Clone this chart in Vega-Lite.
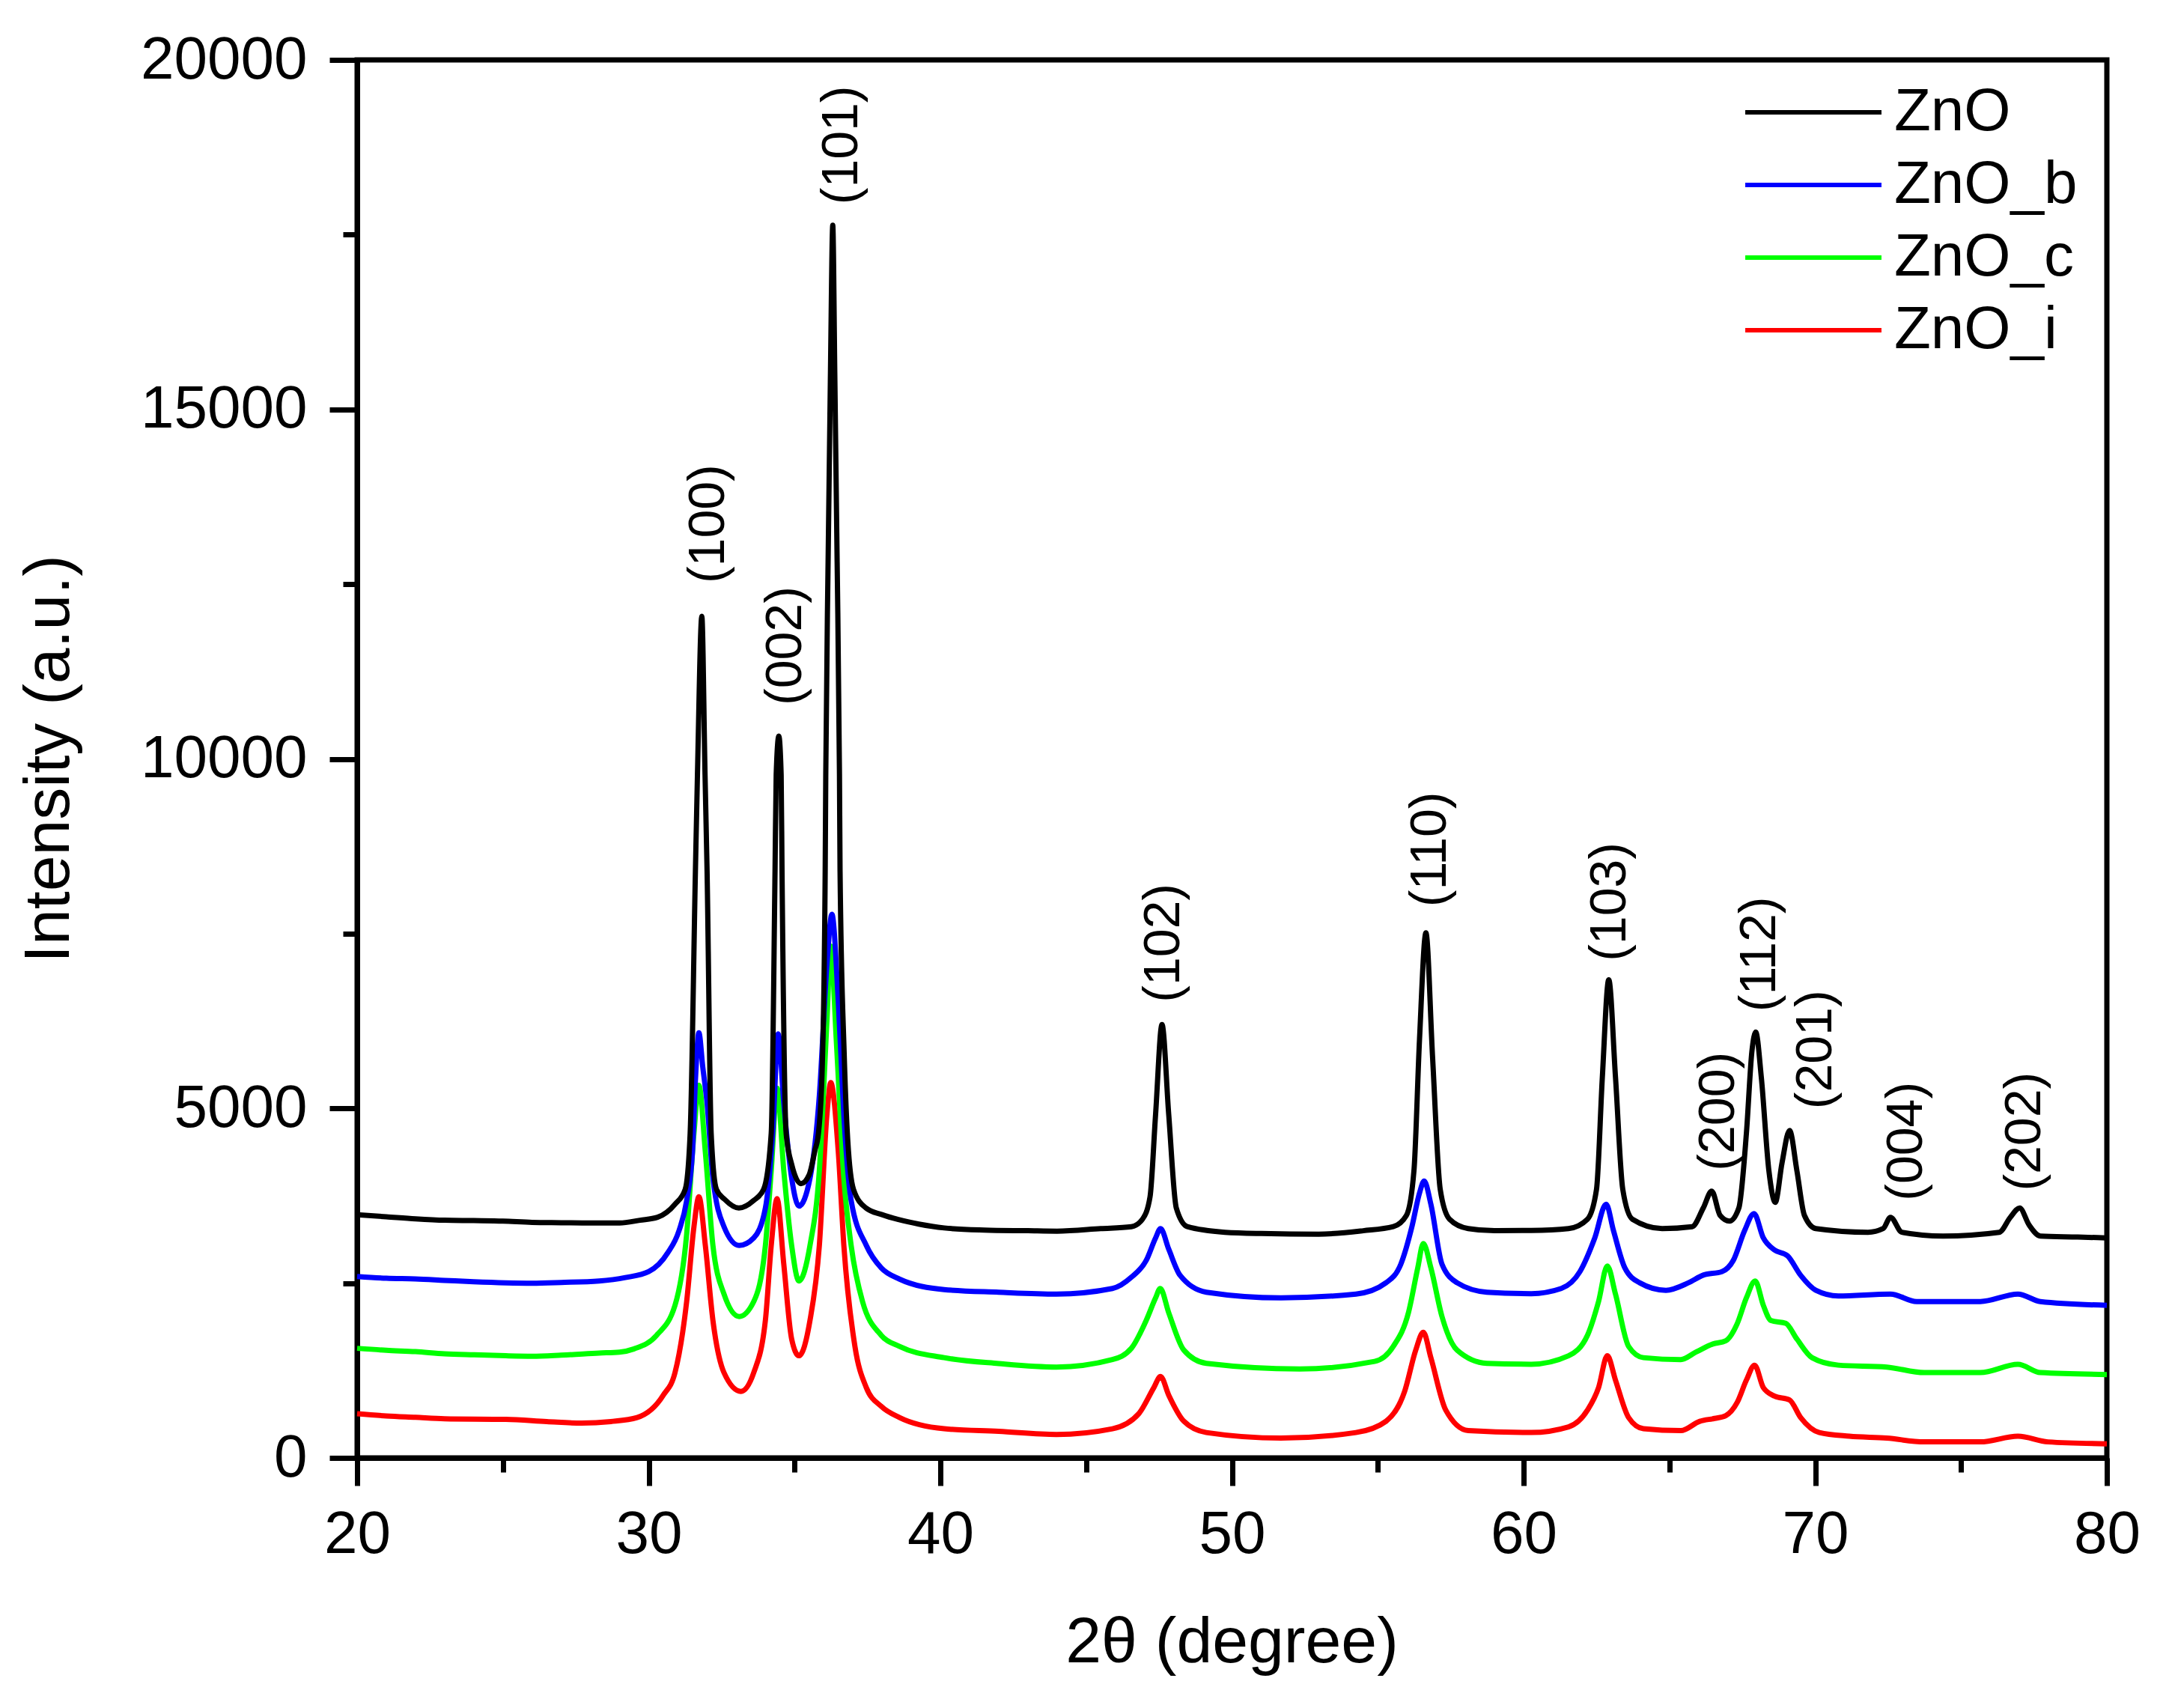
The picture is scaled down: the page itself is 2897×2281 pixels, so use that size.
{
  "$schema": "https://vega.github.io/schema/vega-lite/v6.json",
  "width": 2337,
  "height": 1867,
  "autosize": {"type": "none"},
  "padding": {"left": 477, "top": 80, "right": 83, "bottom": 334},
  "background": "white",
  "config": {
    "view": {"stroke": "black", "strokeWidth": 7},
    "font": "Liberation Sans",
    "axis": {"grid": false, "domainColor": "black", "tickColor": "black", "domainWidth": 7, "tickWidth": 7, "labelColor": "black", "titleColor": "black", "labelFont": "Liberation Sans", "titleFont": "Liberation Sans", "titleFontWeight": "normal", "labelFlush": false, "labelLimit": 1000, "labelOverlap": false}
  },
  "datasets": {
    "xrd": [
      {"s":"ZnO_i","t":20,"I":631},{"s":"ZnO_i","t":21,"I":600},{"s":"ZnO_i","t":22,"I":580},{"s":"ZnO_i","t":23,"I":560},{"s":"ZnO_i","t":25.1,"I":551},{"s":"ZnO_i","t":26.5,"I":520},{"s":"ZnO_i","t":27.7,"I":497},{"s":"ZnO_i","t":28.7,"I":520},{"s":"ZnO_i","t":29.6,"I":577},{"s":"ZnO_i","t":30.5,"I":898},{"s":"ZnO_i","t":30.9,"I":1220},{"s":"ZnO_i","t":31.3,"I":2237},{"s":"ZnO_i","t":31.55,"I":3308},{"s":"ZnO_i","t":31.72,"I":3736},{"s":"ZnO_i","t":31.94,"I":3040},{"s":"ZnO_i","t":32.2,"I":1969},{"s":"ZnO_i","t":32.58,"I":1220},{"s":"ZnO_i","t":33.16,"I":952},{"s":"ZnO_i","t":33.6,"I":1220},{"s":"ZnO_i","t":34.0,"I":1969},{"s":"ZnO_i","t":34.2,"I":3040},{"s":"ZnO_i","t":34.4,"I":3709},{"s":"ZnO_i","t":34.63,"I":2772},{"s":"ZnO_i","t":34.9,"I":1701},{"s":"ZnO_i","t":35.15,"I":1461},{"s":"ZnO_i","t":35.53,"I":1969},{"s":"ZnO_i","t":35.85,"I":3040},{"s":"ZnO_i","t":36.11,"I":4914},{"s":"ZnO_i","t":36.24,"I":5369},{"s":"ZnO_i","t":36.5,"I":4378},{"s":"ZnO_i","t":36.69,"I":3040},{"s":"ZnO_i","t":37.07,"I":1595},{"s":"ZnO_i","t":37.46,"I":1006},{"s":"ZnO_i","t":37.97,"I":738},{"s":"ZnO_i","t":38.6,"I":577},{"s":"ZnO_i","t":40.13,"I":417},{"s":"ZnO_i","t":42,"I":380},{"s":"ZnO_i","t":43.98,"I":336},{"s":"ZnO_i","t":45.9,"I":417},{"s":"ZnO_i","t":46.8,"I":631},{"s":"ZnO_i","t":47.32,"I":1006},{"s":"ZnO_i","t":47.55,"I":1166},{"s":"ZnO_i","t":47.83,"I":898},{"s":"ZnO_i","t":48.35,"I":524},{"s":"ZnO_i","t":49.12,"I":363},{"s":"ZnO_i","t":51.68,"I":283},{"s":"ZnO_i","t":54.25,"I":363},{"s":"ZnO_i","t":55.28,"I":524},{"s":"ZnO_i","t":55.92,"I":952},{"s":"ZnO_i","t":56.3,"I":1541},{"s":"ZnO_i","t":56.56,"I":1798},{"s":"ZnO_i","t":56.82,"I":1434},{"s":"ZnO_i","t":57.33,"I":684},{"s":"ZnO_i","t":58.1,"I":390},{"s":"ZnO_i","t":60.26,"I":363},{"s":"ZnO_i","t":61.54,"I":444},{"s":"ZnO_i","t":62.19,"I":684},{"s":"ZnO_i","t":62.57,"I":1006},{"s":"ZnO_i","t":62.87,"I":1461},{"s":"ZnO_i","t":63.15,"I":1113},{"s":"ZnO_i","t":63.6,"I":577},{"s":"ZnO_i","t":64.11,"I":417},{"s":"ZnO_i","t":65.39,"I":390},{"s":"ZnO_i","t":66.04,"I":524},{"s":"ZnO_i","t":66.55,"I":565},{"s":"ZnO_i","t":66.93,"I":605},{"s":"ZnO_i","t":67.32,"I":791},{"s":"ZnO_i","t":67.64,"I":1113},{"s":"ZnO_i","t":67.92,"I":1327},{"s":"ZnO_i","t":68.22,"I":1006},{"s":"ZnO_i","t":68.6,"I":885},{"s":"ZnO_i","t":69.12,"I":830},{"s":"ZnO_i","t":69.5,"I":577},{"s":"ZnO_i","t":70.14,"I":363},{"s":"ZnO_i","t":71.17,"I":310},{"s":"ZnO_i","t":72.45,"I":283},{"s":"ZnO_i","t":73.74,"I":229},{"s":"ZnO_i","t":75.66,"I":229},{"s":"ZnO_i","t":76.95,"I":310},{"s":"ZnO_i","t":77.98,"I":229},{"s":"ZnO_i","t":80,"I":202},

      {"s":"ZnO_c","t":20,"I":1568},{"s":"ZnO_c","t":21,"I":1540},{"s":"ZnO_c","t":22,"I":1520},{"s":"ZnO_c","t":23,"I":1490},{"s":"ZnO_c","t":24,"I":1475},{"s":"ZnO_c","t":25.1,"I":1461},{"s":"ZnO_c","t":26,"I":1455},{"s":"ZnO_c","t":27,"I":1470},{"s":"ZnO_c","t":28.3,"I":1500},{"s":"ZnO_c","t":29,"I":1514},{"s":"ZnO_c","t":29.5,"I":1560},{"s":"ZnO_c","t":30.27,"I":1755},{"s":"ZnO_c","t":30.9,"I":2183},{"s":"ZnO_c","t":31.3,"I":3200},{"s":"ZnO_c","t":31.55,"I":4646},{"s":"ZnO_c","t":31.72,"I":5331},{"s":"ZnO_c","t":31.94,"I":4378},{"s":"ZnO_c","t":32.2,"I":3040},{"s":"ZnO_c","t":32.58,"I":2344},{"s":"ZnO_c","t":33.1,"I":2023},{"s":"ZnO_c","t":33.6,"I":2237},{"s":"ZnO_c","t":34.0,"I":3040},{"s":"ZnO_c","t":34.2,"I":4111},{"s":"ZnO_c","t":34.4,"I":5289},{"s":"ZnO_c","t":34.63,"I":4111},{"s":"ZnO_c","t":34.9,"I":3040},{"s":"ZnO_c","t":35.15,"I":2531},{"s":"ZnO_c","t":35.53,"I":3040},{"s":"ZnO_c","t":35.85,"I":4111},{"s":"ZnO_c","t":36.11,"I":6252},{"s":"ZnO_c","t":36.24,"I":7323},{"s":"ZnO_c","t":36.43,"I":5985},{"s":"ZnO_c","t":36.69,"I":4000},{"s":"ZnO_c","t":36.94,"I":3040},{"s":"ZnO_c","t":37.33,"I":2237},{"s":"ZnO_c","t":37.97,"I":1755},{"s":"ZnO_c","t":38.6,"I":1595},{"s":"ZnO_c","t":40.13,"I":1434},{"s":"ZnO_c","t":42,"I":1350},{"s":"ZnO_c","t":43.98,"I":1300},{"s":"ZnO_c","t":45.9,"I":1407},{"s":"ZnO_c","t":46.55,"I":1568},{"s":"ZnO_c","t":47.06,"I":1969},{"s":"ZnO_c","t":47.38,"I":2290},{"s":"ZnO_c","t":47.54,"I":2424},{"s":"ZnO_c","t":47.83,"I":2077},{"s":"ZnO_c","t":48.35,"I":1541},{"s":"ZnO_c","t":49.12,"I":1353},{"s":"ZnO_c","t":52.32,"I":1273},{"s":"ZnO_c","t":54.89,"I":1380},{"s":"ZnO_c","t":55.53,"I":1595},{"s":"ZnO_c","t":56.05,"I":2077},{"s":"ZnO_c","t":56.37,"I":2719},{"s":"ZnO_c","t":56.56,"I":3067},{"s":"ZnO_c","t":56.82,"I":2719},{"s":"ZnO_c","t":57.2,"I":2023},{"s":"ZnO_c","t":57.72,"I":1541},{"s":"ZnO_c","t":58.74,"I":1353},{"s":"ZnO_c","t":60.26,"I":1340},{"s":"ZnO_c","t":61.54,"I":1461},{"s":"ZnO_c","t":62.19,"I":1755},{"s":"ZnO_c","t":62.57,"I":2237},{"s":"ZnO_c","t":62.87,"I":2746},{"s":"ZnO_c","t":63.15,"I":2344},{"s":"ZnO_c","t":63.6,"I":1595},{"s":"ZnO_c","t":64.11,"I":1434},{"s":"ZnO_c","t":65.39,"I":1407},{"s":"ZnO_c","t":65.91,"I":1514},{"s":"ZnO_c","t":66.49,"I":1630},{"s":"ZnO_c","t":66.93,"I":1675},{"s":"ZnO_c","t":67.32,"I":1916},{"s":"ZnO_c","t":67.64,"I":2290},{"s":"ZnO_c","t":67.94,"I":2531},{"s":"ZnO_c","t":68.22,"I":2183},{"s":"ZnO_c","t":68.48,"I":1965},{"s":"ZnO_c","t":68.99,"I":1925},{"s":"ZnO_c","t":69.37,"I":1701},{"s":"ZnO_c","t":69.89,"I":1434},{"s":"ZnO_c","t":70.79,"I":1327},{"s":"ZnO_c","t":72.45,"I":1300},{"s":"ZnO_c","t":73.74,"I":1220},{"s":"ZnO_c","t":75.66,"I":1220},{"s":"ZnO_c","t":76.95,"I":1338},{"s":"ZnO_c","t":77.72,"I":1220},{"s":"ZnO_c","t":80,"I":1193},

      {"s":"ZnO_b","t":20,"I":2596},{"s":"ZnO_b","t":21,"I":2570},{"s":"ZnO_b","t":22,"I":2560},{"s":"ZnO_b","t":23,"I":2540},{"s":"ZnO_b","t":24,"I":2520},{"s":"ZnO_b","t":25.1,"I":2505},{"s":"ZnO_b","t":26,"I":2500},{"s":"ZnO_b","t":27,"I":2510},{"s":"ZnO_b","t":28.3,"I":2531},{"s":"ZnO_b","t":29.2,"I":2580},{"s":"ZnO_b","t":30.0,"I":2665},{"s":"ZnO_b","t":30.65,"I":2933},{"s":"ZnO_b","t":31.04,"I":3254},{"s":"ZnO_b","t":31.3,"I":3683},{"s":"ZnO_b","t":31.5,"I":4378},{"s":"ZnO_b","t":31.6,"I":5400},{"s":"ZnO_b","t":31.72,"I":6081},{"s":"ZnO_b","t":31.85,"I":5600},{"s":"ZnO_b","t":32.0,"I":5075},{"s":"ZnO_b","t":32.2,"I":4004},{"s":"ZnO_b","t":32.58,"I":3308},{"s":"ZnO_b","t":33.1,"I":3040},{"s":"ZnO_b","t":33.6,"I":3147},{"s":"ZnO_b","t":34.0,"I":3575},{"s":"ZnO_b","t":34.25,"I":4646},{"s":"ZnO_b","t":34.44,"I":6065},{"s":"ZnO_b","t":34.63,"I":5075},{"s":"ZnO_b","t":34.9,"I":4004},{"s":"ZnO_b","t":35.15,"I":3602},{"s":"ZnO_b","t":35.53,"I":4004},{"s":"ZnO_b","t":35.85,"I":5182},{"s":"ZnO_b","t":36.11,"I":7055},{"s":"ZnO_b","t":36.28,"I":7778},{"s":"ZnO_b","t":36.5,"I":6520},{"s":"ZnO_b","t":36.69,"I":4900},{"s":"ZnO_b","t":36.94,"I":3683},{"s":"ZnO_b","t":37.46,"I":3040},{"s":"ZnO_b","t":37.97,"I":2719},{"s":"ZnO_b","t":38.6,"I":2558},{"s":"ZnO_b","t":40.13,"I":2408},{"s":"ZnO_b","t":42,"I":2370},{"s":"ZnO_b","t":43.98,"I":2344},{"s":"ZnO_b","t":45.9,"I":2424},{"s":"ZnO_b","t":46.55,"I":2585},{"s":"ZnO_b","t":47.06,"I":2826},{"s":"ZnO_b","t":47.38,"I":3147},{"s":"ZnO_b","t":47.55,"I":3281},{"s":"ZnO_b","t":47.83,"I":2987},{"s":"ZnO_b","t":48.22,"I":2612},{"s":"ZnO_b","t":49.12,"I":2371},{"s":"ZnO_b","t":51.68,"I":2290},{"s":"ZnO_b","t":54.25,"I":2344},{"s":"ZnO_b","t":55.28,"I":2505},{"s":"ZnO_b","t":55.79,"I":2772},{"s":"ZnO_b","t":56.17,"I":3308},{"s":"ZnO_b","t":56.43,"I":3790},{"s":"ZnO_b","t":56.59,"I":3961},{"s":"ZnO_b","t":56.82,"I":3629},{"s":"ZnO_b","t":57.2,"I":2772},{"s":"ZnO_b","t":57.72,"I":2505},{"s":"ZnO_b","t":58.74,"I":2371},{"s":"ZnO_b","t":60.26,"I":2350},{"s":"ZnO_b","t":61.29,"I":2424},{"s":"ZnO_b","t":61.93,"I":2665},{"s":"ZnO_b","t":62.44,"I":3147},{"s":"ZnO_b","t":62.83,"I":3629},{"s":"ZnO_b","t":63.08,"I":3254},{"s":"ZnO_b","t":63.47,"I":2719},{"s":"ZnO_b","t":63.98,"I":2505},{"s":"ZnO_b","t":64.88,"I":2398},{"s":"ZnO_b","t":65.65,"I":2505},{"s":"ZnO_b","t":66.16,"I":2615},{"s":"ZnO_b","t":66.8,"I":2665},{"s":"ZnO_b","t":67.19,"I":2826},{"s":"ZnO_b","t":67.58,"I":3254},{"s":"ZnO_b","t":67.9,"I":3495},{"s":"ZnO_b","t":68.22,"I":3147},{"s":"ZnO_b","t":68.6,"I":2975},{"s":"ZnO_b","t":69.05,"I":2890},{"s":"ZnO_b","t":69.5,"I":2612},{"s":"ZnO_b","t":70.02,"I":2398},{"s":"ZnO_b","t":70.79,"I":2317},{"s":"ZnO_b","t":72.58,"I":2344},{"s":"ZnO_b","t":73.48,"I":2237},{"s":"ZnO_b","t":75.66,"I":2237},{"s":"ZnO_b","t":76.95,"I":2344},{"s":"ZnO_b","t":77.72,"I":2237},{"s":"ZnO_b","t":80,"I":2183},

      {"s":"ZnO","t":20,"I":3479},{"s":"ZnO","t":21,"I":3450},{"s":"ZnO","t":22,"I":3420},{"s":"ZnO","t":23,"I":3400},{"s":"ZnO","t":24,"I":3395},{"s":"ZnO","t":25,"I":3388},{"s":"ZnO","t":26,"I":3370},{"s":"ZnO","t":27,"I":3365},{"s":"ZnO","t":28,"I":3360},{"s":"ZnO","t":29,"I":3361},{"s":"ZnO","t":29.7,"I":3400},{"s":"ZnO","t":30.3,"I":3442},{"s":"ZnO","t":30.9,"I":3629},{"s":"ZnO","t":31.25,"I":3843},{"s":"ZnO","t":31.42,"I":4646},{"s":"ZnO","t":31.6,"I":8394},{"s":"ZnO","t":31.67,"I":9775},{"s":"ZnO","t":31.82,"I":12040},{"s":"ZnO","t":31.93,"I":9775},{"s":"ZnO","t":32.0,"I":8394},{"s":"ZnO","t":32.14,"I":4646},{"s":"ZnO","t":32.32,"I":3843},{"s":"ZnO","t":32.6,"I":3700},{"s":"ZnO","t":33.09,"I":3575},{"s":"ZnO","t":33.6,"I":3683},{"s":"ZnO","t":33.94,"I":3843},{"s":"ZnO","t":34.2,"I":4646},{"s":"ZnO","t":34.33,"I":8394},{"s":"ZnO","t":34.37,"I":9775},{"s":"ZnO","t":34.46,"I":10327},{"s":"ZnO","t":34.54,"I":9775},{"s":"ZnO","t":34.57,"I":8394},{"s":"ZnO","t":34.71,"I":4646},{"s":"ZnO","t":34.9,"I":4200},{"s":"ZnO","t":35.22,"I":3924},{"s":"ZnO","t":35.5,"I":4050},{"s":"ZnO","t":35.7,"I":4400},{"s":"ZnO","t":35.82,"I":4646},{"s":"ZnO","t":35.95,"I":5600},{"s":"ZnO","t":36.05,"I":8394},{"s":"ZnO","t":36.07,"I":9775},{"s":"ZnO","t":36.15,"I":12817},{"s":"ZnO","t":36.23,"I":15493},{"s":"ZnO","t":36.31,"I":17634},{"s":"ZnO","t":36.38,"I":15493},{"s":"ZnO","t":36.46,"I":12817},{"s":"ZnO","t":36.54,"I":9775},{"s":"ZnO","t":36.56,"I":8394},{"s":"ZnO","t":36.7,"I":5800},{"s":"ZnO","t":36.81,"I":4646},{"s":"ZnO","t":37.02,"I":3843},{"s":"ZnO","t":37.45,"I":3575},{"s":"ZnO","t":38.0,"I":3480},{"s":"ZnO","t":38.56,"I":3410},{"s":"ZnO","t":39.26,"I":3345},{"s":"ZnO","t":40.13,"I":3290},{"s":"ZnO","t":41.5,"I":3260},{"s":"ZnO","t":43,"I":3250},{"s":"ZnO","t":44,"I":3244},{"s":"ZnO","t":45.5,"I":3280},{"s":"ZnO","t":46.55,"I":3308},{"s":"ZnO","t":46.93,"I":3415},{"s":"ZnO","t":47.19,"I":3736},{"s":"ZnO","t":47.38,"I":4914},{"s":"ZnO","t":47.6,"I":6199},{"s":"ZnO","t":47.83,"I":4914},{"s":"ZnO","t":48.09,"I":3575},{"s":"ZnO","t":48.47,"I":3308},{"s":"ZnO","t":49.76,"I":3228},{"s":"ZnO","t":51,"I":3210},{"s":"ZnO","t":52.97,"I":3201},{"s":"ZnO","t":54.5,"I":3250},{"s":"ZnO","t":55.53,"I":3308},{"s":"ZnO","t":55.98,"I":3468},{"s":"ZnO","t":56.24,"I":4111},{"s":"ZnO","t":56.43,"I":5985},{"s":"ZnO","t":56.65,"I":7511},{"s":"ZnO","t":56.88,"I":5717},{"s":"ZnO","t":57.14,"I":3843},{"s":"ZnO","t":57.46,"I":3415},{"s":"ZnO","t":58.1,"I":3281},{"s":"ZnO","t":59,"I":3250},{"s":"ZnO","t":60.26,"I":3254},{"s":"ZnO","t":61.54,"I":3281},{"s":"ZnO","t":62.19,"I":3415},{"s":"ZnO","t":62.5,"I":3843},{"s":"ZnO","t":62.7,"I":5449},{"s":"ZnO","t":62.92,"I":6841},{"s":"ZnO","t":63.15,"I":5449},{"s":"ZnO","t":63.4,"I":3843},{"s":"ZnO","t":63.73,"I":3415},{"s":"ZnO","t":64.75,"I":3281},{"s":"ZnO","t":65.78,"I":3308},{"s":"ZnO","t":66.16,"I":3575},{"s":"ZnO","t":66.45,"I":3816},{"s":"ZnO","t":66.74,"I":3468},{"s":"ZnO","t":67.06,"I":3388},{"s":"ZnO","t":67.38,"I":3575},{"s":"ZnO","t":67.64,"I":4646},{"s":"ZnO","t":67.83,"I":5824},{"s":"ZnO","t":67.96,"I":6092},{"s":"ZnO","t":68.15,"I":5449},{"s":"ZnO","t":68.41,"I":4111},{"s":"ZnO","t":68.63,"I":3656},{"s":"ZnO","t":68.86,"I":4218},{"s":"ZnO","t":69.12,"I":4684},{"s":"ZnO","t":69.37,"I":4111},{"s":"ZnO","t":69.63,"I":3468},{"s":"ZnO","t":70.02,"I":3281},{"s":"ZnO","t":71.81,"I":3228},{"s":"ZnO","t":72.33,"I":3281},{"s":"ZnO","t":72.58,"I":3442},{"s":"ZnO","t":72.97,"I":3228},{"s":"ZnO","t":74.38,"I":3174},{"s":"ZnO","t":76.31,"I":3228},{"s":"ZnO","t":76.69,"I":3442},{"s":"ZnO","t":77.01,"I":3575},{"s":"ZnO","t":77.33,"I":3335},{"s":"ZnO","t":77.72,"I":3174},{"s":"ZnO","t":79,"I":3160},{"s":"ZnO","t":80,"I":3147}
    ],
    "peaks": [
      {"lab":"(100)","t":32.07,"I":13362},
      {"lab":"(002)","t":34.71,"I":11617},
      {"lab":"(101)","t":36.64,"I":18780},
      {"lab":"(102)","t":47.68,"I":7366},
      {"lab":"(110)","t":56.82,"I":8705},
      {"lab":"(103)","t":62.98,"I":7955},
      {"lab":"(200)","t":66.7,"I":4957},
      {"lab":"(112)","t":68.12,"I":7205},
      {"lab":"(201)","t":70.04,"I":5840},
      {"lab":"(004)","t":73.15,"I":4528},
      {"lab":"(202)","t":77.2,"I":4668}
    ]
  },
  "layer": [
    {
      "data": {"name": "xrd"},
      "mark": {"type": "line", "strokeWidth": 7, "interpolate": "monotone", "strokeJoin": "round"},
      "encoding": {
        "x": {"field": "t", "type": "quantitative",
          "scale": {"domain": [20, 80], "nice": false, "zero": false},
          "axis": {"orient": "bottom", "values": [20, 30, 40, 50, 60, 70, 80], "format": "d", "tickSize": 37, "labelFontSize": 80, "labelPadding": 26, "title": "2θ (degree)", "titleFontSize": 86, "titleX": 1168, "titleY": 246, "titleAlign": "center", "titleBaseline": "middle"}},
        "y": {"field": "I", "type": "quantitative",
          "scale": {"domain": [0, 20000], "nice": false},
          "axis": {"orient": "left", "values": [0, 5000, 10000, 15000, 20000], "format": "d", "tickSize": 37, "labelFontSize": 80, "labelPadding": 30, "title": "Intensity (a.u.)", "titleFontSize": 86, "titleAngle": 270, "titleX": -412, "titleY": 933, "titleAlign": "center", "titleBaseline": "middle"}},
        "color": {"field": "s", "type": "nominal",
          "scale": {"domain": ["ZnO", "ZnO_b", "ZnO_c", "ZnO_i"], "range": ["#000000", "#0000ff", "#00ff00", "#ff0000"]},
          "legend": {"orient": "none", "legendX": 1905, "legendY": 30, "title": null, "labelFontSize": 80, "labelFont": "Liberation Sans", "labelColor": "black", "symbolType": "M-10,0L10,0", "symbolSize": 331, "symbolStrokeWidth": 6, "labelOffset": 68, "rowPadding": 17, "padding": 0, "labelLimit": 1000}},
        "order": {"field": "t", "type": "quantitative"}
      }
    },
    {
      "data": {"name": "peaks"},
      "mark": {"type": "text", "angle": 270, "align": "center", "baseline": "middle", "fontSize": 68, "font": "Liberation Sans", "color": "black"},
      "encoding": {
        "x": {"field": "t", "type": "quantitative",
          "axis": {"orient": "bottom", "values": [25, 35, 45, 55, 65, 75], "tickSize": 19, "labels": false, "domain": false, "title": null}},
        "y": {"field": "I", "type": "quantitative",
          "axis": {"orient": "left", "values": [2500, 7500, 12500, 17500], "tickSize": 19, "labels": false, "domain": false, "title": null}},
        "text": {"field": "lab"}
      }
    }
  ],
  "resolve": {"scale": {"x": "shared", "y": "shared"}, "axis": {"x": "independent", "y": "independent"}}
}
